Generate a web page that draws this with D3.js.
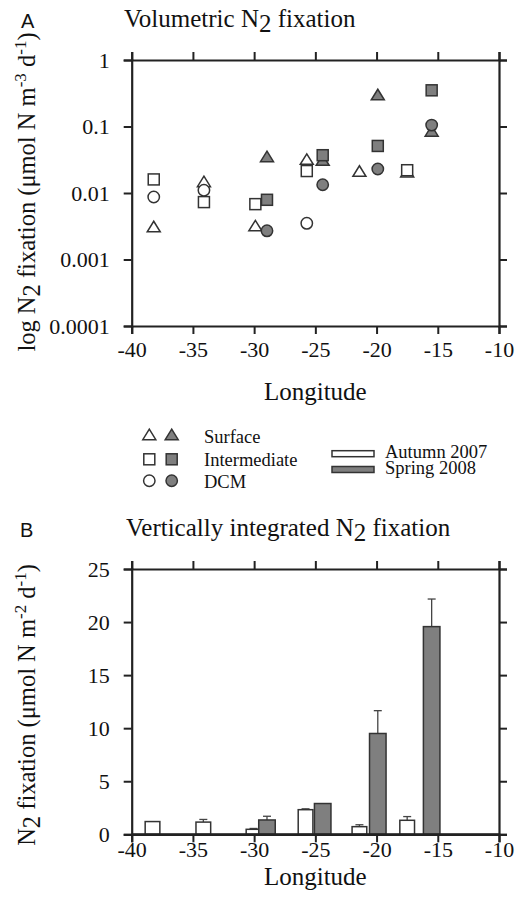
<!DOCTYPE html>
<html><head><meta charset="utf-8">
<script src="https://cdn.jsdelivr.net/npm/d3@7"></script>
<style>body{margin:0;background:#fff}svg{display:block}</style>
</head><body>
<svg id="c" width="515" height="899"></svg>
<script>
// ---------- DATA ----------
const lonTicks = [-40, -35, -30, -25, -20, -15, -10];
const logTicks = [0.0001, 0.001, 0.01, 0.1, 1];
const logTickLabels = ["0.0001", "0.001", "0.01", "0.1", "1"];
const barTicks = [0, 5, 10, 15, 20, 25];

// Panel A: volumetric N2 fixation
const stationsAutumn = [-38.2, -34.1, -29.9, -25.7, -21.4, -17.5];
const surfaceAutumn = [0.003, 0.0143, 0.0031, 0.031, 0.0205, 0.020];
const intermediateAutumn = [0.016, 0.0073, 0.0068, 0.0214, null, 0.022];
const dcmAutumn = [0.0087, 0.011, null, 0.0035, null, null];
const stationsSpring = [-28.95, -24.4, -19.9, -15.5];
const surfaceSpring = [0.034, 0.030, 0.29, 0.082];
const intermediateSpring = [0.0079, 0.037, 0.051, 0.35];
const dcmSpring = [0.0027, 0.0133, 0.023, 0.105];

// Panel B: vertically integrated N2 fixation
const barLonAutumn = [-38.3, -34.15, -30.05, -25.8, -21.4, -17.5];
const barAutumn = [1.2, 1.15, 0.47, 2.32, 0.72, 1.32];
const errAutumn = [0, 0.25, 0.08, 0.08, 0.18, 0.35];
const barLonSpring = [-28.95, -24.4, -19.9, -15.5];
const barSpring = [1.35, 2.9, 9.5, 19.57];
const errSpring = [0.35, 0, 2.15, 2.6];

// ---------- STYLE ----------
const GREY = "#7f7f7f", INK = "#222", MK = "#333";
const SERIF = "'Liberation Serif','Times New Roman',serif";
const SANS = "'Liberation Sans',Arial,sans-serif";

const svg = d3.select("#c");
const X0 = 131.7, X1 = 499;
const x = d3.scaleLinear().domain([-40, -10]).range([X0, X1]);
const yA = d3.scaleLog().domain([0.0001, 1]).range([326, 60]);
const yB = d3.scaleLinear().domain([0, 25]).range([834.3, 569]);

function frame(yScale, tickVals, tickFmt, yTop, yBot, xLabelDy) {
  const g = svg.append("g");
  const ax = (a) => a.tickSizeOuter(0).tickSize(8);
  const bottom = g.append("g").attr("transform", `translate(0,${yBot})`)
    .call(ax(d3.axisBottom(x).tickValues(lonTicks).tickFormat(d => d).tickPadding(2)));
  g.append("g").attr("transform", `translate(0,${yTop})`)
    .call(ax(d3.axisTop(x).tickValues(lonTicks).tickFormat("")));
  g.append("g").attr("transform", `translate(${X0},0)`)
    .call(ax(d3.axisLeft(yScale).tickValues(tickVals).tickFormat(tickFmt).tickPadding(14)));
  g.append("g").attr("transform", `translate(${X1},0)`)
    .call(ax(d3.axisRight(yScale).tickValues(tickVals).tickFormat("")));
  g.selectAll(".domain").attr("stroke", INK).attr("stroke-width", 2.2);
  g.selectAll(".tick line").attr("stroke", INK).attr("stroke-width", 2);
  g.selectAll(".tick text").attr("fill", "#111").style("font-family", SERIF).style("font-size", "22px");
  bottom.selectAll(".tick text").attr("dy", xLabelDy);
  return g;
}

// ---------- PANEL A ----------
frame(yA, logTicks, (d, i) => logTickLabels[i], 60, 326, "0.94em");

function triPath(cx, cy) {
  const w = 13, h = 10.5;
  return `M${cx},${cy - h * 0.62}L${cx + w / 2},${cy + h * 0.38}L${cx - w / 2},${cy + h * 0.38}Z`;
}
function drawMarkers(lons, vals, shape, fill) {
  const data = lons.map((l, i) => ({ l, v: vals[i] })).filter(d => d.v != null);
  const g = svg.append("g");
  if (shape === "tri") {
    g.selectAll("path").data(data).join("path")
      .attr("d", d => triPath(x(d.l), yA(d.v)))
      .attr("fill", fill).attr("stroke", MK).attr("stroke-width", 1.5);
  } else if (shape === "sq") {
    g.selectAll("rect").data(data).join("rect")
      .attr("x", d => x(d.l) - 5.5).attr("y", d => yA(d.v) - 5.5)
      .attr("width", 11).attr("height", 11)
      .attr("fill", fill).attr("stroke", MK).attr("stroke-width", 1.5);
  } else {
    g.selectAll("circle").data(data).join("circle")
      .attr("cx", d => x(d.l)).attr("cy", d => yA(d.v)).attr("r", 5.7)
      .attr("fill", fill).attr("stroke", MK).attr("stroke-width", 1.5);
  }
}
drawMarkers(stationsAutumn, surfaceAutumn, "tri", "#fff");
drawMarkers(stationsSpring, surfaceSpring, "tri", GREY);
drawMarkers(stationsAutumn, intermediateAutumn, "sq", "#fff");
drawMarkers(stationsSpring, intermediateSpring, "sq", GREY);
drawMarkers(stationsAutumn, dcmAutumn, "ci", "#fff");
drawMarkers(stationsSpring, dcmSpring, "ci", GREY);

function title(xp, yp, main) {
  const t = svg.append("text").attr("x", xp).attr("y", yp)
    .style("font-family", SERIF).style("font-size", "25px").attr("fill", "#111");
  t.append("tspan").text(main);
  t.append("tspan").text("2").attr("dy", 5);
  t.append("tspan").text(" fixation").attr("dy", -5);
}
svg.append("text").attr("x", 21).attr("y", 28).text("A")
  .style("font-family", SANS).style("font-size", "20px").attr("fill", "#111");
title(124, 27, "Volumetric N");

svg.append("text").attr("x", x(-25)).attr("y", 400).attr("text-anchor", "middle")
  .style("font-family", SERIF).style("font-size", "25px").attr("fill", "#111").text("Longitude");

function yLabel(cy, parts) {
  const t = svg.append("text").attr("transform", `translate(35,${cy}) rotate(-90)`)
    .attr("text-anchor", "middle").style("font-family", SERIF).style("font-size", "24.5px").attr("fill", "#111");
  let shift = 0;
  parts.forEach(([s, kind]) => {
    const ts = t.append("tspan").text(s);
    const target = kind === "sub" ? 5 : kind === "sup" ? -9 : 0;
    ts.attr("dy", target - shift); shift = target;
    if (kind === "sup") ts.style("font-size", "17px");
  });
}
yLabel(192, [["log N", ""], ["2", "sub"], [" fixation (μmol N m", ""], ["-3", "sup"], [" d", ""], ["-1", "sup"], [")", ""]]);

// ---------- LEGEND ----------
const LX1 = 149.3, LX2 = 171.7;
const legRows = [435.7, 459.3, 480.7];
const lg = svg.append("g");
[[LX1, "#fff"], [LX2, GREY]].forEach(([cx, f]) =>
  lg.append("path").attr("d", triPath(cx, legRows[0])).attr("fill", f).attr("stroke", MK).attr("stroke-width", 1.5));
[[LX1, "#fff"], [LX2, GREY]].forEach(([cx, f]) =>
  lg.append("rect").attr("x", cx - 5.5).attr("y", legRows[1] - 5.5).attr("width", 11).attr("height", 11)
    .attr("fill", f).attr("stroke", MK).attr("stroke-width", 1.5));
[[LX1, "#fff"], [LX2, GREY]].forEach(([cx, f]) =>
  lg.append("circle").attr("cx", cx).attr("cy", legRows[2]).attr("r", 5.7)
    .attr("fill", f).attr("stroke", MK).attr("stroke-width", 1.5));
["Surface", "Intermediate", "DCM"].forEach((s, i) =>
  lg.append("text").attr("x", 204).attr("y", legRows[i] + 7).text(s)
    .style("font-family", SERIF).style("font-size", "18.5px").attr("fill", "#111"));
[["Autumn 2007", "#fff", 450.7], ["Spring 2008", GREY, 466.5]].forEach(([s, f, yy]) => {
  lg.append("rect").attr("x", 332).attr("y", yy).attr("width", 42).attr("height", 6)
    .attr("fill", f).attr("stroke", MK).attr("stroke-width", 1.5);
  lg.append("text").attr("x", 385).attr("y", yy + 7).text(s)
    .style("font-family", SERIF).style("font-size", "18.5px").attr("fill", "#111");
});

// ---------- PANEL B ----------
frame(yB, barTicks, d => d, 569, 834.3, "0.56em");

function bars(lons, vals, errs, w, fill) {
  const data = lons.map((l, i) => ({ l, v: vals[i], e: errs[i] }));
  const g = svg.append("g");
  const withErr = data.filter(d => d.e > 0);
  g.selectAll("line.err").data(withErr).join("line").attr("class", "err")
    .attr("x1", d => x(d.l)).attr("x2", d => x(d.l))
    .attr("y1", d => yB(d.v)).attr("y2", d => yB(d.v + d.e))
    .attr("stroke", "#444").attr("stroke-width", 1.3);
  g.selectAll("line.cap").data(withErr).join("line").attr("class", "cap")
    .attr("x1", d => x(d.l) - 4).attr("x2", d => x(d.l) + 4)
    .attr("y1", d => yB(d.v + d.e)).attr("y2", d => yB(d.v + d.e))
    .attr("stroke", "#444").attr("stroke-width", 1.3);
  g.selectAll("rect").data(data).join("rect")
    .attr("x", d => x(d.l - w / 2)).attr("width", d => x(d.l + w / 2) - x(d.l - w / 2))
    .attr("y", d => yB(d.v)).attr("height", d => yB(0) - yB(d.v))
    .attr("fill", fill).attr("stroke", MK).attr("stroke-width", 1.5);
}
bars(barLonAutumn, barAutumn, errAutumn, 1.2, "#fff");
bars(barLonSpring, barSpring, errSpring, 1.35, GREY);
svg.append("line").attr("x1", X0).attr("x2", X1).attr("y1", yB(0)).attr("y2", yB(0))
  .attr("stroke", INK).attr("stroke-width", 2.2);

svg.append("text").attr("x", 20).attr("y", 537).text("B")
  .style("font-family", SANS).style("font-size", "20px").attr("fill", "#111");
title(126, 536, "Vertically integrated N");

svg.append("text").attr("x", x(-25)).attr("y", 885).attr("text-anchor", "middle")
  .style("font-family", SERIF).style("font-size", "25px").attr("fill", "#111").text("Longitude");
yLabel(705, [["N", ""], ["2", "sub"], [" fixation (μmol N m", ""], ["-2", "sup"], [" d", ""], ["-1", "sup"], [")", ""]]);
</script>
</body></html>
